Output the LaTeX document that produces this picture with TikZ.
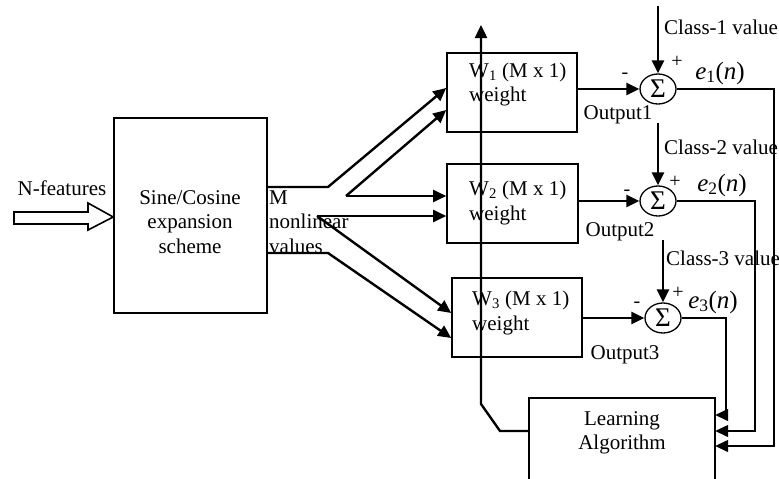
\documentclass[tikz,border=0pt]{standalone}
\usepackage{fontspec}
\setmainfont{Liberation Serif}
\usetikzlibrary{arrows.meta,shapes.geometric,calc}

\begin{document}
\begin{tikzpicture}[x=1pt,y=-1pt,>={Triangle[length=13pt,width=12pt]},
  blk/.style={draw,line width=1.6pt,inner sep=0pt},
  sig/.style={draw,ellipse,line width=1.3pt,minimum width=36pt,minimum height=30pt,inner sep=0pt,font=\fontsize{27}{27}\selectfont},
  txt/.style={inner sep=0pt,font=\fontsize{21}{24.5}\selectfont},
  sml/.style={inner sep=0pt,font=\fontsize{20}{20}\selectfont},
  elab/.style={inner sep=0pt,font=\fontsize{25}{25}\selectfont},
  fat/.style={line width=2.4pt},
  thin/.style={line width=1.4pt}]
\useasboundingbox (0,0) rectangle (779,479);
% expansion block and input
\node[blk,minimum width=153pt,minimum height=195pt] (sc) at (190.5,215.5) {};
\node[txt,align=center] (sct) at (190,222) {Sine/Cosine\\expansion\\scheme};
\node[txt] (nf) at (62,188) {N-features};
\draw[line width=1.6pt] (14,212) -- (88,212) -- (88,203) -- (sc.west |- 0,217) -- (88,230) -- (88,224) -- (14,224) -- cycle;
\node[txt,align=left,anchor=west] (mv) at (269,222) {M\\nonlinear\\values};
% weight blocks
\node[blk,minimum width=130pt,minimum height=79pt] (w1) at (512,92.5) {};
\node[blk,minimum width=131pt,minimum height=79pt] (w2) at (512.5,203.5) {};
\node[blk,minimum width=130pt,minimum height=79pt] (w3) at (517,317.5) {};
\node[txt,align=left,anchor=west] (w1t) at (469,84.5) {W\textsubscript{1} (M x 1)\\weight};
\node[txt,align=left,anchor=west] (w2t) at (469,203) {W\textsubscript{2} (M x 1)\\weight};
\node[txt,align=left,anchor=west] (w3t) at (472,313) {W\textsubscript{3} (M x 1)\\weight};
% fan out of the M values
\coordinate (f1) at (346,196);
\coordinate (f2) at (317,216);
\draw[fat,->] (sc.east |- 0,187) -- (328,187) -- (w1.west |- 0,88);
\draw[fat,->] (f1) -- (w1.west |- 0,110);
\draw[fat,->] (f1) -- (w2.west |- 0,196);
\draw[fat,->] (f2) -- (w2.west |- 0,216);
\draw[fat,->] (f2) -- (w3.west |- 0,313);
\draw[fat,->] (sc.east |- 0,253) -- (328,253) -- (w3.west |- 0,338);
% summing junctions
\node[sig] (s1) at (658,89) {Σ};
\node[sig] (s2) at (658,201) {Σ};
\node[sig] (s3) at (663,318) {Σ};
\draw[fat,->] (w1.east |- s1) -- (s1.west);
\draw[fat,->] (w2.east |- s2) -- (s2.west);
\draw[fat,->] (w3.east |- s3) -- (s3.west);
\node[txt] (o1) at (618,115) {Output1};
\node[txt] (o2) at (620,232) {Output2};
\node[txt] (o3) at (625,355) {Output3};
\node[sml] (m1) at (625,76) {-};
\node[sml] (m2) at (627,193) {-};
\node[sml] (m3) at (637,305) {-};
\node[sml] (p1) at (677,62) {+};
\node[sml] (p2) at (675,182) {+};
\node[sml] (p3) at (678,293) {+};
% class values
\coordinate (k1) at (658,6);
\coordinate (k2) at (658,123);
\coordinate (k3) at (663,240);
\draw[fat,->] (k1) -- (s1.north);
\draw[fat,->] (k2) -- (s2.north);
\draw[fat,->] (k3) -- (s3.north);
\node[txt,anchor=west] (cl1) at (664,27) {Class-1 value};
\node[txt,anchor=west] (cl2) at (664,147) {Class-2 value};
\node[txt,anchor=west] (cl3) at (666,258) {Class-3 value};
\node[elab] (e1) at (720,73) {\textit{e}\textsubscript{1}(\textit{n})};
\node[elab] (e2) at (722,185) {\textit{e}\textsubscript{2}(\textit{n})};
\node[elab] (e3) at (713,302) {\textit{e}\textsubscript{3}(\textit{n})};
% learning algorithm
\node[txt,align=center,minimum width=186pt,minimum height=70pt] (la) at (622,433) {Learning\\Algorithm};
\draw[line width=1.6pt] ($(la.north west)+(0,82)$) |- (la.north east) -- ++(0,82);
\coordinate (c1) at (774,446);
\coordinate (c2) at (755,431);
\coordinate (c3) at (726,415);
\draw[thin,->] (s1.east) -| (c1) -- (c1 -| la.east);
\draw[thin,->] (s2.east) -| (c2) -- (c2 -| la.east);
\draw[thin,->] (s3.east) -| (c3) -- (c3 -| la.east);
% feedback to the weights
\coordinate (fb) at (481,404);
\coordinate (fbtop) at (481,25);
\draw[fat,->] (la.west |- 0,431) -- (500,431) -- (fb) -- (fbtop);
\end{tikzpicture}
\end{document}
